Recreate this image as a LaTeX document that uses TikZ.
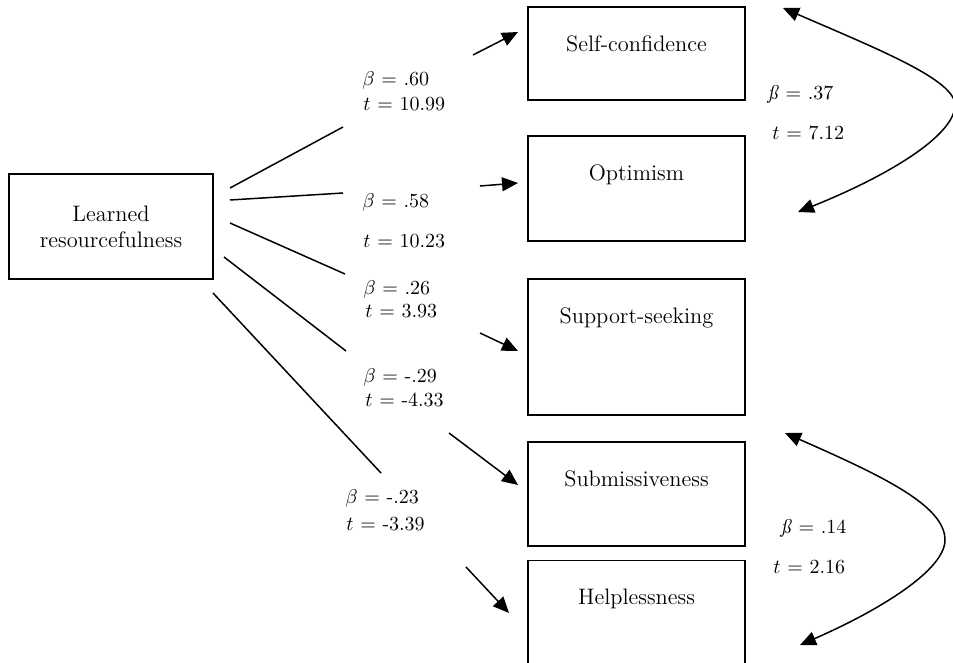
\documentclass[tikz,border=0pt]{standalone}
\usepackage{amsmath}
\usetikzlibrary{arrows.meta, positioning}

\begin{document}
\begin{tikzpicture}[x=0.5pt, y=-0.5pt,
        >={Triangle[length=8pt, width=7pt]},
        box/.style={draw, line width=0.9pt, inner sep=0pt, minimum width=108.5pt},
        boxtext/.style={anchor=base, font=\fontsize{11.2}{13}\selectfont},
        coef/.style={anchor=base west, inner sep=0pt, font=\fontsize{10}{12}\selectfont},
        edge/.style={line width=0.75pt},
        arr/.style={->, line width=0.75pt},
        corr/.style={<->, line width=0.75pt},
        ]
        \useasboundingbox (0,0) rectangle (953,663);

        % 方框
        \node[box, minimum width=102pt, minimum height=52.5pt, align=center,
              font=\fontsize{11.2}{13}\selectfont] (lr) at (111,226.5) {Learned\\resourcefulness};
        \node[box, minimum height=46.5pt] (sc) at (636.5,53.5) {};
        \node[box, minimum height=52.5pt] (op) at (636.5,188.5) {};
        \node[box, minimum height=68pt] (ss) at (636.5,347) {};
        \node[box, minimum height=52pt] (sub) at (636.5,494) {};
        \node[box, minimum height=51.5pt] (hp) at (636.5,612) {};

        \node[boxtext] (sctext) at ([yshift=-22.5pt]sc.north) {Self-confidence};
        \node[boxtext] (optext) at ([yshift=-22.5pt]op.north) {Optimism};
        \node[boxtext] (sstext) at ([yshift=-22.5pt]ss.north) {Support-seeking};
        \node[boxtext] (subtext) at ([yshift=-22.5pt]sub.north) {Submissiveness};
        \node[boxtext] (hptext) at ([yshift=-22.5pt]hp.north) {Helplessness};

        % 系数
        \node[coef] (beta1) at (362,86) {$\beta$ = .60};
        \node[coef] (tval1) at (363,111) {$t$ = 10.99};
        \node[coef] (beta2) at (362,208) {$\beta$ = .58};
        \node[coef] (tval2) at (363,248) {$t$ = 10.23};
        \node[coef] (beta3) at (363,294) {$\beta$ = .26};
        \node[coef] (tval3) at (365,318) {$t$ = 3.93};
        \node[coef] (beta4) at (363,382) {$\beta$ = -.29};
        \node[coef] (tval4) at (365,406) {$t$ = -4.33};
        \node[coef] (beta5) at (345,503) {$\beta$ = -.23};
        \node[coef] (tval5) at (346,530) {$t$ = -3.39};
        \node[coef] (beta6) at (767,100) {\textit{\ss} = .37};
        \node[coef] (tval6) at (772,140) {$t$ = 7.12};
        \node[coef] (beta7) at (780,533) {\textit{\ss} = .14};
        \node[coef] (tval7) at (773,573) {$t$ = 2.16};

        % 路径
        \coordinate (s1) at (230,188);
        \coordinate (e1) at (343,127);
        \coordinate (a1) at (473,55);
        \coordinate (z1) at (518,32);
        \coordinate (s2) at (230,200);
        \coordinate (e2) at (343,193);
        \coordinate (a2) at (480,186);
        \coordinate (z2) at (518,183);
        \coordinate (s3) at (230,223);
        \coordinate (e3) at (345,274);
        \coordinate (a3) at (480,333);
        \coordinate (z3) at (518,351);
        \coordinate (s4) at (224,257);
        \coordinate (e4) at (346,351);
        \coordinate (a4) at (449,433);
        \coordinate (z4) at (518,485);
        \coordinate (s5) at (213,293);
        \coordinate (e5) at (381,473);
        \coordinate (a5) at (466,567);
        \coordinate (z5) at (509,613);

        \draw[edge] (s1) -- (e1);
        \draw[arr] (a1) -- (z1);
        \draw[edge] (s2) -- (e2);
        \draw[arr] (a2) -- (z2);
        \draw[edge] (s3) -- (e3);
        \draw[arr] (a3) -- (z3);
        \draw[edge] (s4) -- (e4);
        \draw[arr] (a4) -- (z4);
        \draw[edge] (s5) -- (e5);
        \draw[arr] (a5) -- (z5);

        % 相关
        \coordinate (c1) at (783,8);
        \coordinate (c2) at (798,212);
        \coordinate (c3) at (785,433);
        \coordinate (c4) at (800,645);
        \draw[corr] (c1) .. controls (880,50) and (955,80) .. (955,105)
                         .. controls (955,135) and (890,175) .. (c2);
        \draw[corr] (c3) .. controls (880,475) and (945,505) .. (945,540)
                         .. controls (945,570) and (880,610) .. (c4);

        \end{tikzpicture}
\end{document}
